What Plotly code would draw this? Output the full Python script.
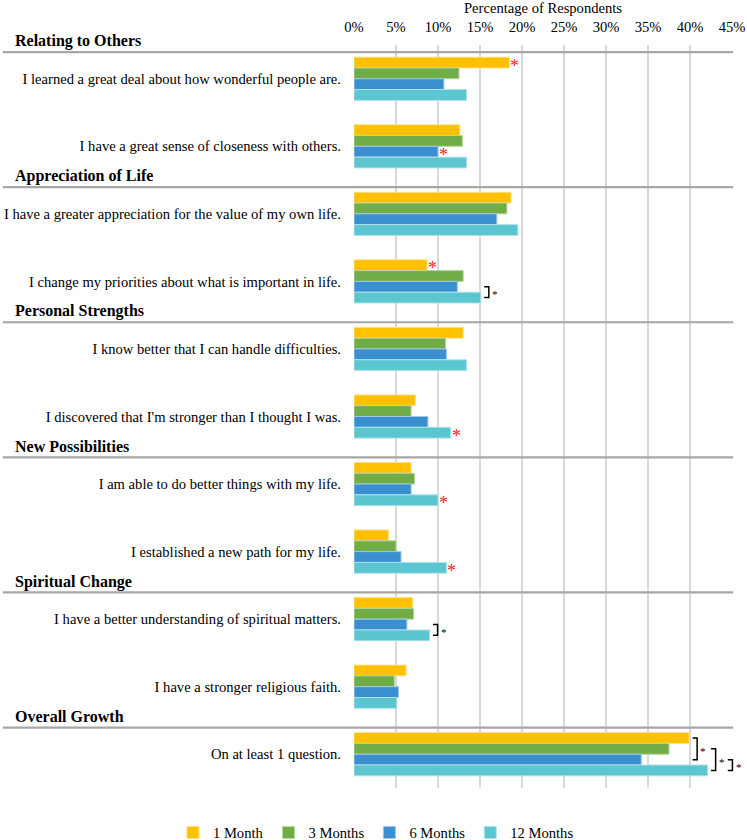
import plotly.graph_objects as go

# ---------------- data ----------------
questions = [
    "I learned a great deal about how wonderful people are.",
    "I have a great sense of closeness with others.",
    "I have a greater appreciation for the value of my own life.",
    "I change my priorities about what is important in life.",
    "I know better that I can handle difficulties.",
    "I discovered that I'm stronger than I thought I was.",
    "I am able to do better things with my life.",
    "I established a new path for my life.",
    "I have a better understanding of spiritual matters.",
    "I have a stronger religious faith.",
    "On at least 1 question.",
]
series_names = ["1 Month", "3 Months", "6 Months", "12 Months"]
m1 = [18.5, 12.6, 18.7, 8.7, 13.0, 7.3, 6.8, 4.1, 7.0, 6.2, 39.9]
m3 = [12.5, 12.9, 18.2, 13.0, 10.9, 6.8, 7.2, 5.0, 7.1, 4.8, 37.5]
m6 = [10.7, 10.0, 17.0, 12.3, 11.0, 8.8, 6.8, 5.6, 6.3, 5.3, 34.2]
m12 = [13.4, 13.4, 19.5, 15.1, 13.4, 11.5, 10.0, 11.0, 9.0, 5.1, 42.1]
sections = ["Relating to Others", "Appreciation of Life", "Personal Strengths",
            "New Possibilities", "Spiritual Change", "Overall Growth"]
section_start = [0, 2, 4, 6, 8, 10]
x_ticks = [0, 5, 10, 15, 20, 25, 30, 35, 40, 45]
x_tick_labels = [f"{v}%" for v in x_ticks]

# red asterisks: (question index, series index)
red_stars = [(0, 0), (1, 2), (3, 0), (5, 3), (6, 3), (7, 3)]
# brackets: (question index, first series, last series, level)
brackets = [(3, 2, 3, 0), (8, 2, 3, 0), (10, 0, 2, 0), (10, 1, 3, 0), (10, 2, 3, 1)]

colors = ["#FFC000", "#70AD47", "#3A8FD1", "#5BC5D0"]
line_colors = ["#FFE08A", "#B5D69E", "#9CC7EA", "#AEE2E8"]

FONT = "Liberation Serif"
XMAX = 45
BARGAP = 0.36
values = [m1, m3, m6, m12]
N = len(questions)

fig = go.Figure()
for name, vals, c, lc in zip(series_names, values, colors, line_colors):
    fig.add_trace(go.Bar(
        y=questions, x=vals, name=name, orientation="h",
        marker=dict(color=c, line=dict(color=lc, width=1)),
        hoverinfo="x+name",
    ))

bar_w = (1 - BARGAP) / len(series_names)


def bar_center(qi, si):
    return qi + (si - (len(series_names) - 1) / 2) * bar_w


def ypaper(v):
    # y axis runs reversed from N-0.5 (bottom) to -0.5 (top)
    return (N - 0.5 - v) / N


annotations = []
shapes = []

# section headers and separator lines
for title, start in zip(sections, section_start):
    annotations.append(dict(
        text=f"<b>{title}</b>", xref="paper", yref="paper", x=-0.903,
        y=ypaper(start - 0.555),
        xanchor="left", yanchor="middle", showarrow=False,
        font=dict(family=FONT, size=16, color="#000000"),
    ))
    shapes.append(dict(
        type="line", xref="paper", yref="y", x0=-0.929, x1=1.003,
        y0=start - 0.395, y1=start - 0.395,
        line=dict(color="#A6A6A6", width=2.2), layer="above",
    ))

# red asterisks
for qi, si in red_stars:
    annotations.append(dict(
        text="*", xref="x", yref="y", x=values[si][qi] + 0.65, y=bar_center(qi, si),
        xanchor="center", yanchor="middle", showarrow=False, yshift=-3,
        font=dict(family=FONT, size=18, color="#FF2020"),
    ))

# brackets with black asterisks
for qi, s0, s1, lvl in brackets:
    top = max(values[s][qi] for s in range(s0, s1 + 1))
    xb = top + 0.4 + lvl * 2.0
    xe = xb + 0.55
    ya, yb = bar_center(qi, s0), bar_center(qi, s1)
    px0, px1 = xb / XMAX, xe / XMAX
    shapes.append(dict(
        type="path", xref="paper", yref="y",
        path=f"M {px0},{ya} L {px1},{ya} L {px1},{yb} L {px0},{yb}",
        line=dict(color="#000000", width=1.5), layer="above",
    ))
    annotations.append(dict(
        text="*", xref="paper", yref="y", x=(xe + 0.75) / XMAX, y=(ya + yb) / 2,
        xanchor="center", yanchor="middle", showarrow=False, yshift=-2,
        font=dict(family=FONT, size=11, color="#000000"),
    ))

fig.update_layout(
    width=747, height=840,
    margin=dict(l=354, r=15, t=45, b=52, autoexpand=False),
    paper_bgcolor="white", plot_bgcolor="white",
    barmode="group", bargap=BARGAP, bargroupgap=0,
    font=dict(family=FONT, size=14.6, color="#000000"),
    xaxis=dict(
        side="top", range=[0, XMAX], tickvals=x_ticks, ticktext=x_tick_labels,
        showgrid=True, gridcolor="#D9D9D9", gridwidth=1.5, zeroline=False,
        showline=False, ticks="", ticklabelstandoff=9, automargin=False,
        tickfont=dict(family=FONT, size=14.6, color="#000000"),
        title=dict(text="Percentage of Respondents", standoff=8,
                   font=dict(family=FONT, size=14.6, color="#000000")),
        fixedrange=True,
    ),
    yaxis=dict(
        type="category", categoryorder="array", categoryarray=questions,
        range=[N - 0.5, -0.5], showgrid=False, zeroline=False,
        showline=False, ticks="", ticklabelstandoff=12, automargin=False,
        tickfont=dict(family=FONT, size=14.6, color="#000000"),
        fixedrange=True,
    ),
    legend=dict(
        orientation="h", x=-0.479, xanchor="left", y=-0.060, yanchor="middle",
        font=dict(family=FONT, size=14.6, color="#000000"),
        itemwidth=30, traceorder="normal",
    ),
    annotations=annotations, shapes=shapes,
)

fig.write_html("out.html", config={"displayModeBar": False},
               post_script="document.body.style.margin='0';")
